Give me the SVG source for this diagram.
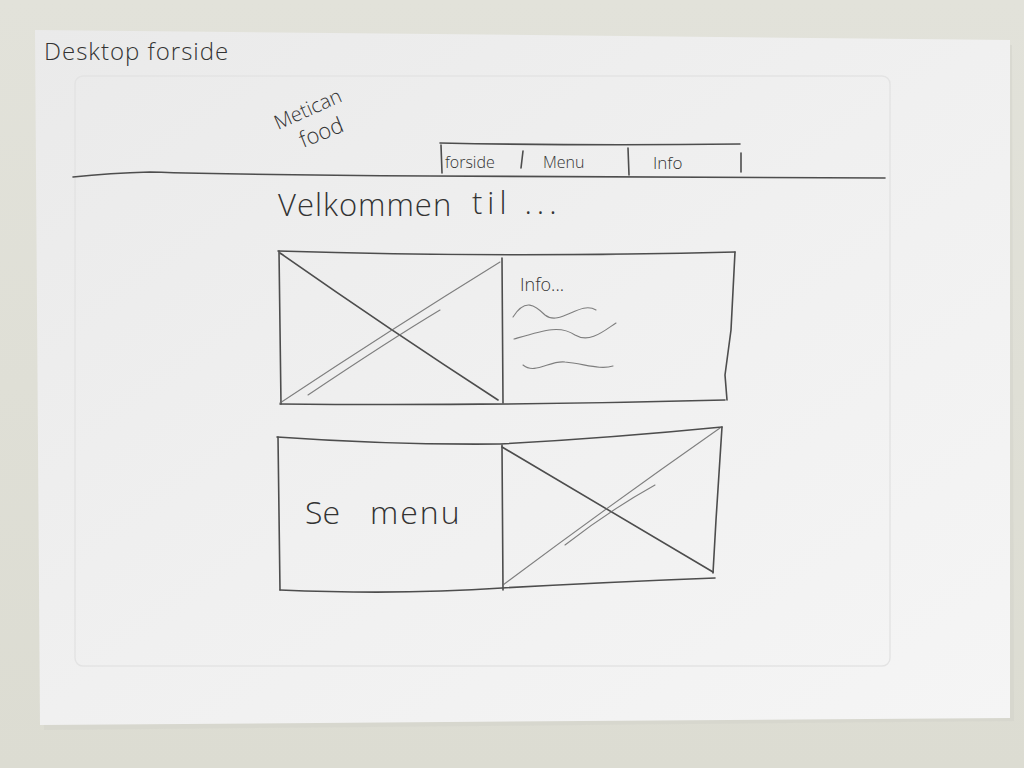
<svg xmlns="http://www.w3.org/2000/svg" width="1024" height="768" viewBox="0 0 1024 768">
  <defs>
    <linearGradient id="paperShade" x1="0" y1="0" x2="1" y2="1">
      <stop offset="0" stop-color="#eaeaea"/>
      <stop offset="0.5" stop-color="#f0f0f0"/>
      <stop offset="1" stop-color="#f5f5f5"/>
    </linearGradient>
    <linearGradient id="wallShade" x1="0" y1="0" x2="0" y2="1">
      <stop offset="0" stop-color="#e2e2da"/>
      <stop offset="1" stop-color="#dcdcd2"/>
    </linearGradient>
    <style>
      .pencil { fill: none; stroke: #4d4d4d; stroke-width: 1.6; stroke-linecap: round; stroke-linejoin: round; }
      .pencil-soft { fill: none; stroke: #6a6a6a; stroke-width: 1.1; stroke-linecap: round; opacity: 0.85; }
      .ghost { fill: none; stroke: #e3e3e3; stroke-width: 1.4; }
      .hand { font-family: "Open Sans", "Liberation Sans", sans-serif; font-weight: 300; fill: #333333; }
    </style>
  </defs>

  <!-- wall behind the sheet -->
  <rect width="1024" height="768" fill="url(#wallShade)"/>

  <!-- sheet of paper -->
  <g id="paper">
    <polygon points="37,33 1010,42 1012,718 42,727" fill="#d4d4cc" transform="translate(2,3)" opacity="0.6"/>
    <polygon points="35,30 1010,40 1010,718 40,725" fill="url(#paperShade)"/>
    <!-- faint drawing showing through from the back -->
    <rect x="75" y="76" width="815" height="590" rx="8" class="ghost"/>
  </g>

  <!-- page title -->
  <g id="title">
    <text x="44" y="60" class="hand" font-size="24" letter-spacing="1">Desktop forside</text>
  </g>

  <!-- logo -->
  <g id="logo">
    <text class="hand" font-size="20" transform="translate(278,130) rotate(-24)">Metican</text>
    <text class="hand" font-size="22" transform="translate(303,148) rotate(-22)">food</text>
  </g>

  <!-- navigation bar -->
  <g id="nav">
    <path d="M440,143 Q590,146 740,144" class="pencil"/>
    <path d="M441,145 L442,173" class="pencil"/>
    <path d="M523,151 L521,168" class="pencil"/>
    <path d="M628,148 L629,175" class="pencil"/>
    <path d="M741,153 L741,172" class="pencil"/>
    <text x="445" y="168" class="hand" font-size="16">forside</text>
    <text x="543" y="168" class="hand" font-size="16">Menu</text>
    <text x="653" y="169" class="hand" font-size="17">Info</text>
  </g>

  <!-- header divider -->
  <g id="header-line">
    <path d="M73,177 Q110,173 150,172 Q250,175 430,176 Q660,176 885,178" class="pencil"/>
  </g>

  <!-- welcome heading -->
  <g id="welcome">
    <text x="278" y="216" class="hand" font-size="31" letter-spacing="1">Velkommen</text>
    <text x="472" y="214" class="hand" font-size="31" letter-spacing="5">til ...</text>
  </g>

  <!-- first content block: image + info text -->
  <g id="block-info">
    <path d="M278,251 Q500,258 735,252" class="pencil"/>
    <path d="M280,404 Q500,406 725,400" class="pencil"/>
    <path d="M279,251 L281,404" class="pencil"/>
    <path d="M735,252 L731,330 L725,375 L727,400" class="pencil"/>
    <path d="M502,258 L503,403" class="pencil"/>
    <path d="M280,253 Q390,330 498,400" class="pencil"/>
    <path d="M280,403 Q390,330 500,262" class="pencil-soft"/>
    <path d="M308,395 Q390,340 440,310" class="pencil-soft"/>
    <text x="520" y="291" class="hand" font-size="18">Info...</text>
    <path d="M513,317 C525,298 535,305 545,315 C560,327 580,300 596,310" class="pencil-soft"/>
    <path d="M514,339 C545,330 560,325 575,335 C590,344 605,330 616,323" class="pencil-soft"/>
    <path d="M523,365 C535,375 550,360 565,362 C585,364 600,370 613,366" class="pencil-soft"/>
  </g>

  <!-- second content block: menu link + image -->
  <g id="block-menu">
    <path d="M277,437 Q390,445 500,444 Q610,438 722,427" class="pencil"/>
    <path d="M280,590 Q400,595 502,588 Q610,582 715,578" class="pencil"/>
    <path d="M278,437 L280,590" class="pencil"/>
    <path d="M722,427 L716,520 L713,573" class="pencil"/>
    <path d="M502,445 L503,590" class="pencil"/>
    <path d="M502,447 Q600,505 713,572" class="pencil"/>
    <path d="M503,585 Q610,505 720,428" class="pencil-soft"/>
    <path d="M565,545 Q610,510 655,485" class="pencil-soft"/>
    <text x="305" y="524" class="hand" font-size="32">Se</text>
    <text x="370" y="524" class="hand" font-size="32" letter-spacing="2">menu</text>
  </g>
</svg>
